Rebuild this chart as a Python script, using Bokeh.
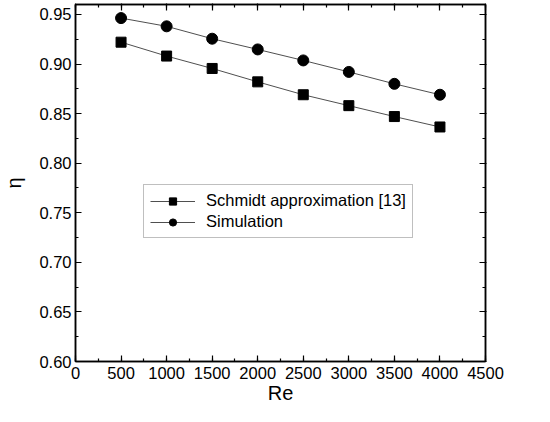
from bokeh.plotting import figure
from bokeh.models import (LinearAxis, Legend, LegendItem, SingleIntervalTicker, Range1d,
                          NumeralTickFormatter, CustomJSTickFormatter)
from bokeh.embed import file_html
from bokeh.resources import INLINE

re_vals = [500, 1000, 1500, 2000, 2500, 3000, 3500, 4000]
schmidt = [0.922, 0.908, 0.8955, 0.882, 0.869, 0.858, 0.847, 0.8365]
simulation = [0.9463, 0.938, 0.9255, 0.9147, 0.9036, 0.892, 0.880, 0.869]

FONT = "Liberation Sans"

p = figure(width=534, height=406, output_backend="svg", toolbar_location=None,
           x_range=Range1d(0, 4500), y_range=Range1d(0.60, 0.96),
           min_border_left=0, min_border_right=49, min_border_top=4, min_border_bottom=0,
           x_axis_label="Re", y_axis_label="η")
p.grid.visible = False
p.outline_line_color = "black"
p.outline_line_width = 1.5

def style(ax, labels=True):
    ax.axis_line_color = "black"
    ax.axis_line_width = 1.5
    ax.major_tick_in = 6
    ax.major_tick_out = 0
    ax.minor_tick_in = 3
    ax.minor_tick_out = 0
    ax.major_tick_line_color = "black"
    ax.minor_tick_line_color = "black"
    ax.major_tick_line_width = 1.2
    ax.minor_tick_line_width = 1.2
    ax.major_label_text_font = FONT
    ax.major_label_text_font_size = "16.5px"
    ax.major_label_text_color = "black"
    ax.major_label_text_line_height = 1.0
    ax.axis_label_text_font = FONT
    ax.axis_label_text_font_style = "normal"
    ax.axis_label_text_font_size = "20px"
    ax.axis_label_text_color = "black"
    ax.axis_label_text_line_height = 1.0
    if not labels:
        ax.formatter = CustomJSTickFormatter(code="return ''")
        ax.major_label_standoff = 0
        ax.axis_label_standoff = 0
        ax.major_tick_out = 1
        ax.axis_label = None

p.xaxis.ticker = SingleIntervalTicker(interval=500, num_minor_ticks=2)
p.yaxis.ticker = SingleIntervalTicker(interval=0.05, num_minor_ticks=2)
p.yaxis.formatter = NumeralTickFormatter(format="0.00")
style(p.xaxis[0])
style(p.yaxis[0])
p.xaxis.major_label_standoff = 5
p.yaxis.major_label_standoff = 4
p.xaxis.axis_label_standoff = 0
p.yaxis.axis_label_standoff = 11

top = LinearAxis(ticker=SingleIntervalTicker(interval=500, num_minor_ticks=2))
right = LinearAxis(ticker=SingleIntervalTicker(interval=0.05, num_minor_ticks=2))
style(top, labels=False)
style(right, labels=False)
p.add_layout(top, "above")
p.add_layout(right, "right")

l1 = p.line(re_vals, schmidt, line_color="#222222", line_width=0.8)
m1 = p.scatter(re_vals, schmidt, marker="square", size=10, fill_color="black", line_color="black")
l2 = p.line(re_vals, simulation, line_color="#222222", line_width=0.8)
m2 = p.scatter(re_vals, simulation, marker="circle", size=11, fill_color="black", line_color="black")

legend = Legend(items=[LegendItem(label="Schmidt approximation [13]", renderers=[l1, m1]),
                       LegendItem(label="Simulation", renderers=[l2, m2])],
                location=(68, 123), border_line_color="gray", border_line_width=1.2,
                label_text_font=FONT, label_text_font_size="16.5px", label_text_color="black",
                glyph_width=45, glyph_height=18, label_height=19, spacing=2,
                label_standoff=11, padding=6, margin=0, background_fill_alpha=1)
p.add_layout(legend, "center")

open("out.html", "w").write(file_html(p, INLINE))
